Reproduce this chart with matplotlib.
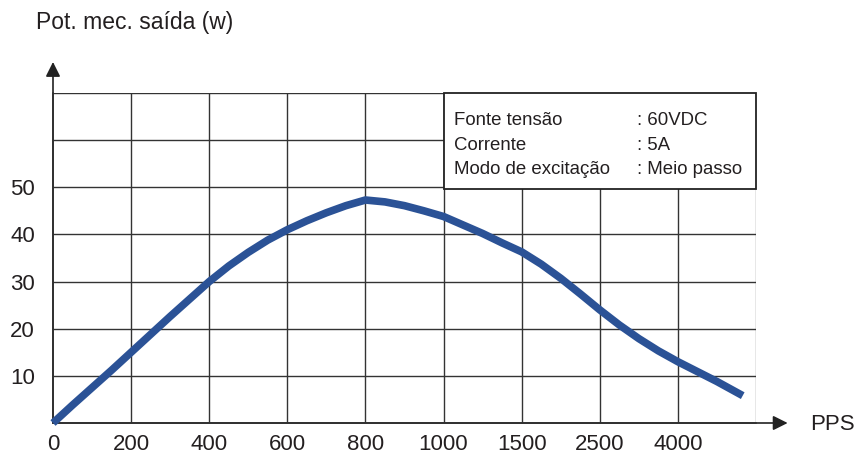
import matplotlib
matplotlib.use("Agg")
import matplotlib.pyplot as plt

# category axis (equally spaced columns), last column has no label
pps_labels = ["0", "200", "400", "600", "800", "1000", "1500", "2500", "4000"]
n_cols = 9

# curve: position along category axis, power (W)
curve_pos = [0, 0.25, 0.5, 0.75, 1, 1.25, 1.5, 1.75, 2, 2.25, 2.5, 2.75, 3,
             3.25, 3.5, 3.75, 4, 4.25, 4.5, 4.75, 5, 5.25, 5.5, 5.75, 6,
             6.25, 6.5, 6.75, 7, 7.25, 7.5, 7.75, 8, 8.25, 8.5, 8.83]
curve_power = [0, 3.8, 7.5, 11.2, 15.0, 18.8, 22.6, 26.3, 30.0, 33.3, 36.2, 38.8, 41.0,
               42.9, 44.6, 46.1, 47.3, 46.9, 46.1, 45.0, 43.8, 42.0, 40.2, 38.2, 36.3,
               33.7, 30.7, 27.4, 24.0, 20.8, 17.9, 15.3, 13.0, 10.9, 8.8, 5.8]

y_ticks = [10, 20, 30, 40, 50]
y_max = 70

info_keys = ["Fonte tensão", "Corrente", "Modo de excitação"]
info_vals = [": 60VDC", ": 5A", ": Meio passo"]

plt.rcParams["font.family"] = ["Liberation Sans", "DejaVu Sans"]
TXT = "#231f20"
BLUE = "#2b5296"

fig = plt.figure(figsize=(8.57, 4.61), dpi=100)
ax = fig.add_axes([53 / 857, 38 / 461, 703 / 857, 330 / 461])
ax.set_xlim(0, n_cols)
ax.set_ylim(0, y_max)
for s in ax.spines.values():
    s.set_visible(False)

# grid
for i in range(1, n_cols + 1):
    ax.axvline(i, color="#333333" if i < n_cols else "#888888", lw=1.0, zorder=1)
for v in range(10, y_max + 1, 10):
    ax.axhline(v, color="#333333", lw=1.0, zorder=1)

# axes with arrows
arrow = dict(arrowstyle="-|>", color="#222222", lw=1.2, mutation_scale=22,
             shrinkA=0, shrinkB=0)
ax.annotate("", xy=(1.045, 0), xytext=(0, 0), xycoords="axes fraction",
            textcoords="axes fraction", arrowprops=arrow, zorder=3)
ax.annotate("", xy=(0, 1.094), xytext=(0, 0), xycoords="axes fraction",
            textcoords="axes fraction", arrowprops=arrow, zorder=3)
ax.plot([0, 0], [0, y_max], color="#777777", lw=1.2, zorder=2, clip_on=False)
ax.plot([0, n_cols], [0, 0], color="#777777", lw=1.2, zorder=2, clip_on=False)

# ticks
ax.set_xticks(range(len(pps_labels)))
ax.set_xticklabels(pps_labels, fontsize=16, color=TXT)
ax.set_yticks(y_ticks)
ax.set_yticklabels([str(v) for v in y_ticks], fontsize=16, color=TXT, va="center_baseline")
ax.tick_params(axis="both", length=0)
ax.tick_params(axis="x", pad=8)
ax.tick_params(axis="y", pad=13)

# curve
ax.plot(curve_pos, curve_power, color=BLUE, lw=5.5, solid_joinstyle="round",
        solid_capstyle="butt", zorder=5, clip_on=False)

# info box
box = plt.Rectangle((5, 49.6), 4, y_max - 49.6, facecolor="white", edgecolor="#222222",
                    lw=1.3, zorder=4, clip_on=False)
ax.add_patch(box)
for k, (key, val) in enumerate(zip(info_keys, info_vals)):
    yy = 64.1 - k * 5.2
    ax.text(5.13, yy, key, fontsize=13.4, color=TXT, va="center", zorder=6)
    ax.text(7.48, yy, val, fontsize=13.4, color=TXT, va="center", zorder=6)

# labels
fig.text(36 / 857, 1 - 22 / 461, "Pot. mec. saída (w)", fontsize=16.5, color=TXT,
         ha="left", va="center")
fig.text(810 / 857, 1 - 424 / 461, "PPS", fontsize=16, color=TXT, ha="left", va="center")

fig.savefig("out.png", dpi=100)
